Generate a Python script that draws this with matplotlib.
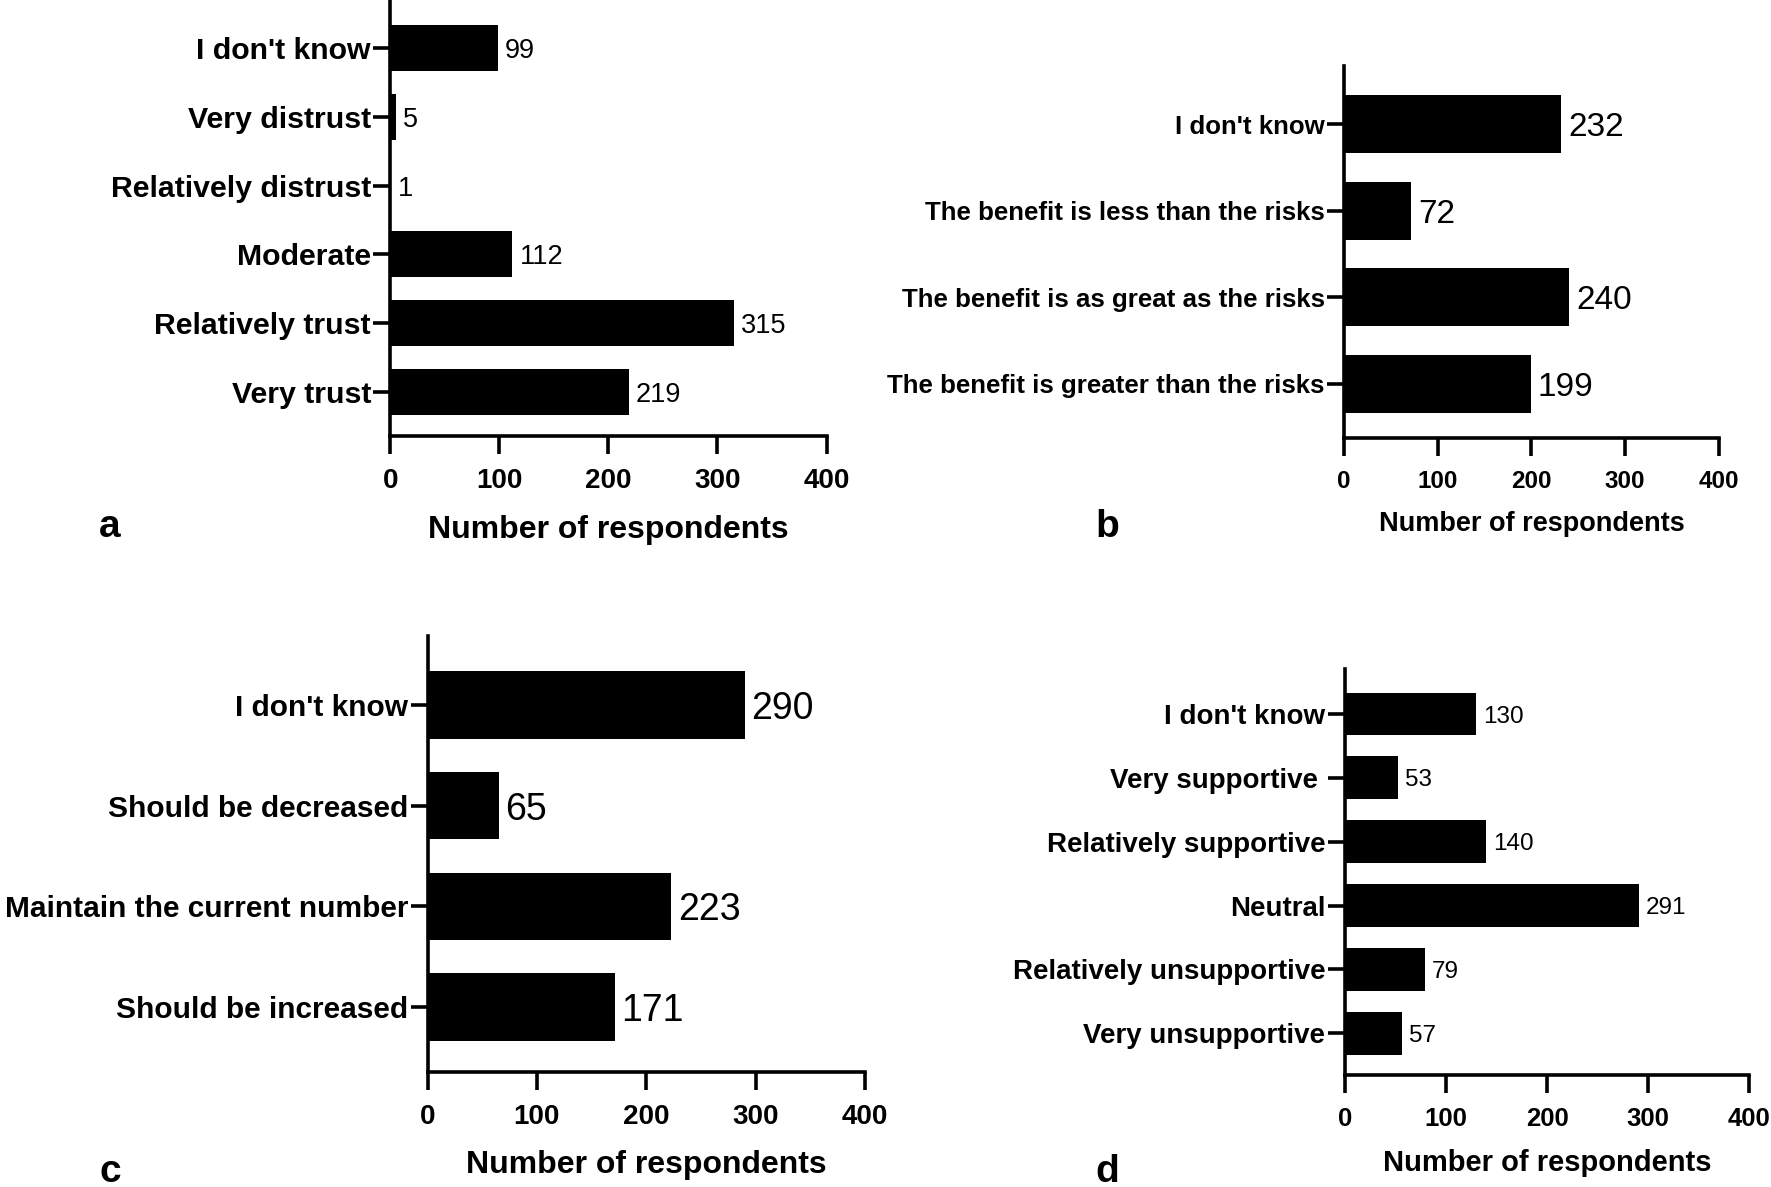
import matplotlib
matplotlib.use('Agg')
import matplotlib.pyplot as plt

plt.rcParams['font.family'] = ['Liberation Sans', 'DejaVu Sans']

# panel a: trust
trust_labels = ["Very trust", "Relatively trust", "Moderate",
                "Relatively distrust", "Very distrust", "I don't know"]
trust_counts = [219, 315, 112, 1, 5, 99]

# panel b: benefit vs risk
benefit_labels = ["The benefit is greater than the risks",
                  "The benefit is as great as the risks",
                  "The benefit is less than the risks",
                  "I don't know"]
benefit_counts = [199, 240, 72, 232]

# panel c: number of facilities
number_labels = ["Should be increased", "Maintain the current number",
                 "Should be decreased", "I don't know"]
number_counts = [171, 223, 65, 290]

# panel d: support
support_labels = ["Very unsupportive", "Relatively unsupportive", "Neutral",
                  "Relatively supportive", "Very supportive ", "I don't know"]
support_counts = [57, 79, 291, 140, 53, 130]

x_ticks = [0, 100, 200, 300, 400]

fig = plt.figure(figsize=(17.71, 11.87), dpi=100)


def draw_panel(rect, labels, counts, ylim, cat_size, val_size, tick_size,
               xlab_size, labelpad):
    ax = fig.add_axes(rect)
    pos = list(range(len(labels)))
    ax.barh(pos, counts, height=0.67, color='black')
    for p, c in zip(pos, counts):
        ax.annotate(str(c), (c, p), xytext=(5, 0), textcoords='offset points',
                    ha='left', va='center_baseline', fontsize=val_size)
    ax.set_xlim(0, 400)
    ax.set_ylim(*ylim)
    ax.set_xticks(x_ticks)
    ax.set_yticks(pos)
    ax.set_yticklabels(labels, fontsize=cat_size, fontweight='bold')
    for t in ax.get_xticklabels():
        t.set_fontsize(tick_size)
        t.set_fontweight('bold')
    ax.spines['top'].set_visible(False)
    ax.spines['right'].set_visible(False)
    for s in ['left', 'bottom']:
        ax.spines[s].set_linewidth(2.6)
    ax.tick_params(axis='x', length=13, width=2.6, pad=10)
    ax.tick_params(axis='y', length=12, width=2.6, pad=2)
    ax.set_xlabel('Number of respondents', fontsize=xlab_size,
                  fontweight='bold', labelpad=labelpad)
    return ax


draw_panel([0.2204, 0.6324, 0.2463, 0.3676], trust_labels, trust_counts,
           (-0.65, 5.70), 21.8, 19.5, 20, 23, 15)
draw_panel([0.7589, 0.6307, 0.2117, 0.3137], benefit_labels, benefit_counts,
           (-0.63, 3.67), 18.6, 24, 17.5, 19.5, 13)
draw_panel([0.2414, 0.0965, 0.2470, 0.3680], number_labels, number_counts,
           (-0.65, 3.69), 21.5, 27, 20, 23, 14)
draw_panel([0.7593, 0.0946, 0.2285, 0.3415], support_labels, support_counts,
           (-0.65, 5.70), 20, 17.5, 18.5, 21, 13)

for letter, x, y in [('a', 110, 527), ('b', 1107, 527),
                     ('c', 110, 1172), ('d', 1107, 1172)]:
    fig.text(x / 1771, 1 - y / 1187, letter, fontsize=28, fontweight='bold',
             ha='center', va='center')

fig.savefig('out.png', dpi=100)
